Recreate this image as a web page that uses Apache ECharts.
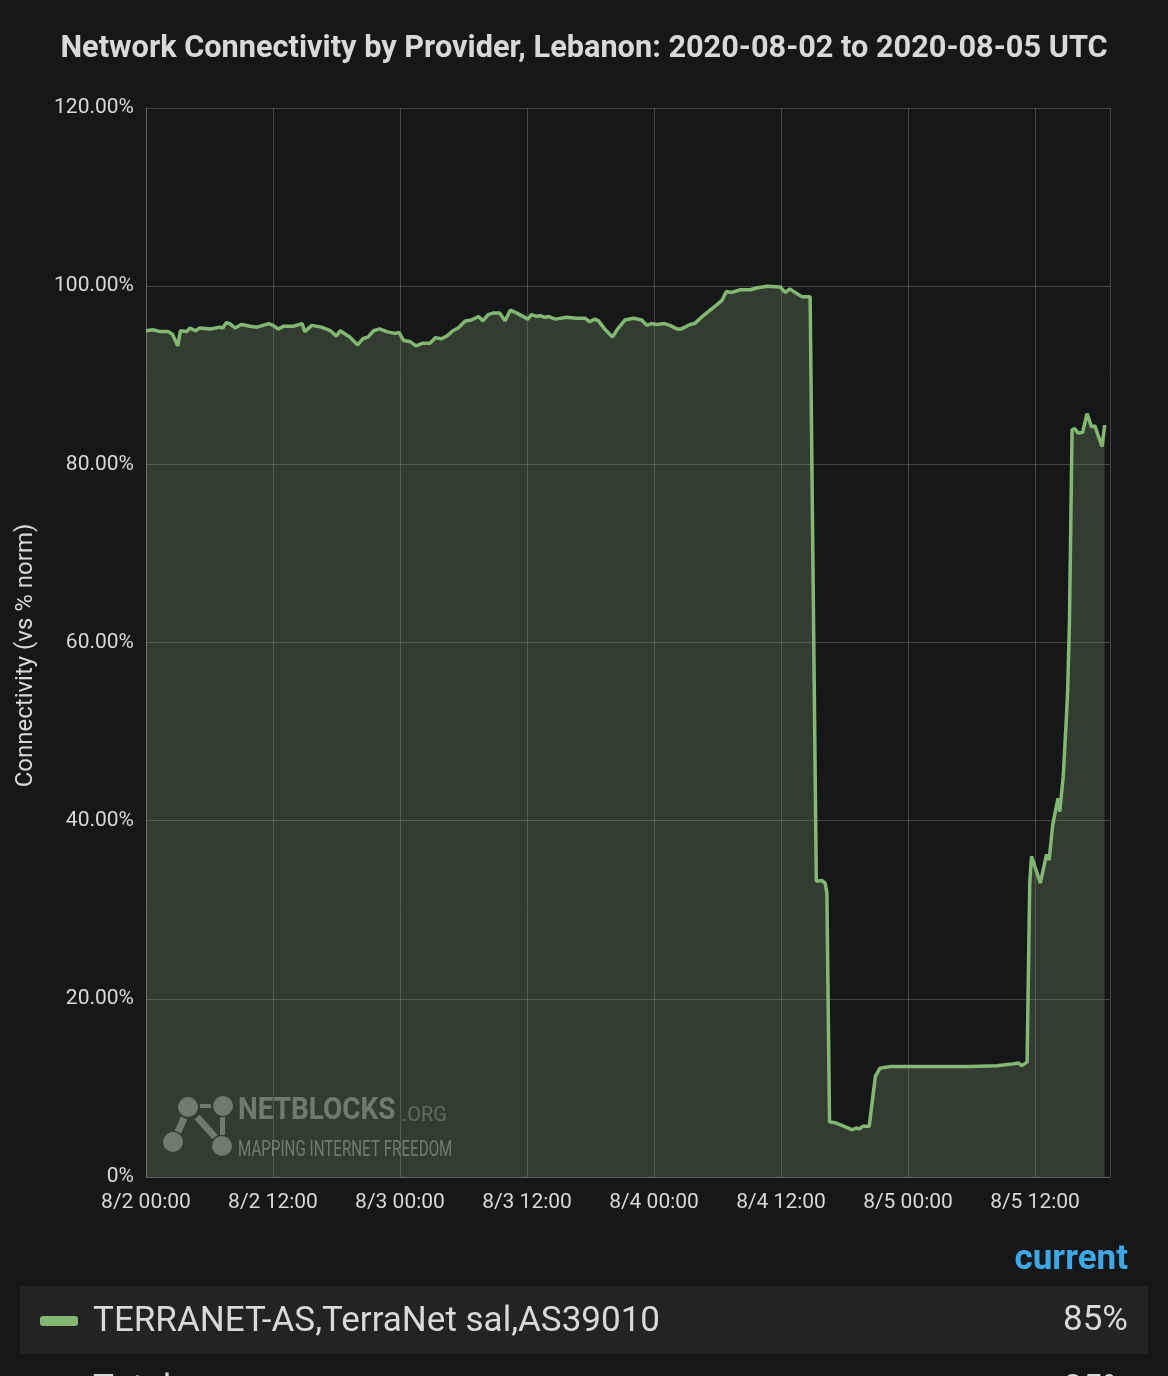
<!DOCTYPE html>
<html>
<head>
<meta charset="utf-8">
<script src="https://cdn.jsdelivr.net/npm/echarts@6/dist/echarts.min.js"></script>
<style>
html,body{margin:0;padding:0;background:#161719;}
#chart{width:1168px;height:1376px;}
</style>
</head>
<body>
<div id="chart"></div>
<script>
// ---- data (UTC) ----
const seriesName = 'TERRANET-AS,TerraNet sal,AS39010';
const times = [
'2020-08-02 00:00','2020-08-02 00:40','2020-08-02 01:20','2020-08-02 02:05','2020-08-02 02:30','2020-08-02 03:00','2020-08-02 03:15','2020-08-02 03:50','2020-08-02 04:10','2020-08-02 04:40',
'2020-08-02 05:05','2020-08-02 06:05','2020-08-02 07:00','2020-08-02 07:15','2020-08-02 07:35','2020-08-02 07:55','2020-08-02 08:25','2020-08-02 09:00','2020-08-02 09:50','2020-08-02 10:30',
'2020-08-02 11:35','2020-08-02 12:00','2020-08-02 12:30','2020-08-02 13:00','2020-08-02 13:55','2020-08-02 14:45','2020-08-02 15:00','2020-08-02 15:40','2020-08-02 16:35','2020-08-02 17:25',
'2020-08-02 18:00','2020-08-02 18:20','2020-08-02 19:15','2020-08-02 20:00','2020-08-02 20:30','2020-08-02 21:00','2020-08-02 21:30','2020-08-02 22:05','2020-08-02 22:45','2020-08-02 23:30',
'2020-08-02 23:55','2020-08-03 00:20','2020-08-03 00:55','2020-08-03 01:30','2020-08-03 02:10','2020-08-03 02:50','2020-08-03 03:20','2020-08-03 03:55','2020-08-03 04:25','2020-08-03 05:00',
'2020-08-03 05:30','2020-08-03 06:10','2020-08-03 06:45','2020-08-03 07:25','2020-08-03 07:50','2020-08-03 08:20','2020-08-03 08:50','2020-08-03 09:25','2020-08-03 09:55','2020-08-03 10:25',
'2020-08-03 11:00','2020-08-03 12:05','2020-08-03 12:25','2020-08-03 12:55','2020-08-03 13:15','2020-08-03 13:40','2020-08-03 14:00','2020-08-03 14:40','2020-08-03 15:45','2020-08-03 16:40',
'2020-08-03 17:30','2020-08-03 17:55','2020-08-03 18:25','2020-08-03 18:45','2020-08-03 19:20','2020-08-03 20:05','2020-08-03 20:30','2020-08-03 21:15','2020-08-03 22:05','2020-08-03 22:50',
'2020-08-03 23:20','2020-08-03 23:45','2020-08-04 00:15','2020-08-04 01:00','2020-08-04 01:30','2020-08-04 02:10','2020-08-04 02:35','2020-08-04 03:25','2020-08-04 03:50','2020-08-04 04:40',
'2020-08-04 05:55','2020-08-04 06:25','2020-08-04 06:50','2020-08-04 07:20','2020-08-04 08:10','2020-08-04 09:05','2020-08-04 09:40','2020-08-04 10:40','2020-08-04 11:55','2020-08-04 12:25',
'2020-08-04 12:50','2020-08-04 13:20','2020-08-04 14:00','2020-08-04 14:45','2020-08-04 14:55','2020-08-04 15:20','2020-08-04 15:50','2020-08-04 16:10','2020-08-04 16:20','2020-08-04 16:35',
'2020-08-04 17:05','2020-08-04 17:55','2020-08-04 18:45','2020-08-04 19:05','2020-08-04 19:25','2020-08-04 19:45','2020-08-04 20:20','2020-08-04 20:55','2020-08-04 21:20','2020-08-04 22:20',
'2020-08-05 02:05','2020-08-05 05:50','2020-08-05 08:25','2020-08-05 09:10','2020-08-05 09:55','2020-08-05 10:25','2020-08-05 10:45','2020-08-05 11:15','2020-08-05 11:30','2020-08-05 11:40',
'2020-08-05 12:30','2020-08-05 13:05','2020-08-05 13:20','2020-08-05 13:40','2020-08-05 14:10','2020-08-05 14:20','2020-08-05 14:40','2020-08-05 15:00','2020-08-05 15:05','2020-08-05 15:15',
'2020-08-05 15:30','2020-08-05 15:45','2020-08-05 16:05','2020-08-05 16:30','2020-08-05 16:55','2020-08-05 17:20','2020-08-05 17:40','2020-08-05 18:00','2020-08-05 18:20','2020-08-05 18:35'
];
const values = [
95.0,95.1,94.9,94.9,94.6,93.3,95.0,94.9,95.3,95.0,
95.3,95.2,95.4,95.3,95.9,95.8,95.3,95.7,95.5,95.4,
95.8,95.6,95.2,95.5,95.5,95.8,94.9,95.6,95.4,95.0,
94.4,95.0,94.3,93.4,94.1,94.3,95.0,95.2,94.9,94.7,
94.8,93.9,93.8,93.3,93.6,93.6,94.2,94.1,94.4,95.0,
95.3,96.1,96.2,96.6,96.1,96.8,97.0,97.0,96.1,97.3,
97.0,96.3,96.8,96.6,96.7,96.5,96.6,96.3,96.5,96.4,
96.4,96.0,96.3,96.1,95.2,94.3,95.1,96.2,96.4,96.2,
95.6,95.8,95.7,95.8,95.6,95.2,95.2,95.7,95.8,96.7,
97.9,98.4,99.4,99.3,99.6,99.6,99.8,100.0,99.9,99.3,
99.7,99.3,98.8,98.8,98.7,33.2,33.3,33.0,31.9,6.2,
6.1,5.7,5.3,5.5,5.4,5.7,5.7,11.3,12.2,12.4,
12.4,12.4,12.5,12.6,12.7,12.8,12.5,12.9,33.0,36.0,
33.0,36.2,35.6,39.5,42.5,41.0,45.0,52.4,54.7,62.2,
83.9,84.0,83.5,83.6,85.7,84.2,84.3,83.1,82.0,84.4
];
const xTickLabels = ['8/2 00:00','8/2 12:00','8/3 00:00','8/3 12:00','8/4 00:00','8/4 12:00','8/5 00:00','8/5 12:00'];
const yTicks = [0,20,40,60,80,100,120];
const rangeStart = '2020-08-02 00:00';
const rangeEnd = '2020-08-05 19:05';
const currentValue = '85%';

function hoursSince(t){
  const m = t.match(/(\d+)-(\d+)-(\d+) (\d+):(\d+)/);
  const s = rangeStart.match(/(\d+)-(\d+)-(\d+) (\d+):(\d+)/);
  const a = Date.UTC(+m[1], +m[2]-1, +m[3], +m[4], +m[5]);
  const b = Date.UTC(+s[1], +s[2]-1, +s[3], +s[4], +s[5]);
  return (a-b)/3600000;
}
const data = times.map((t,i)=>[hoursSince(t), values[i]]);

const txt = '#d8d9da';
const gridCol = 'rgba(150,150,150,0.36)';
const green = '#83b872';
const wm = 'rgba(230,240,225,0.40)';

const chart = echarts.init(document.getElementById('chart'), null, {renderer:'canvas'});
chart.setOption({
  backgroundColor:'#161719',
  animation:false,
  title:{
    text:'Network Connectivity by Provider, Lebanon: 2020-08-02 to 2020-08-05 UTC',
    left:'center', top:29,
    textStyle:{color:txt, fontFamily:'Roboto', fontSize:30.7, fontWeight:'bold'}
  },
  grid:{left:146, right:58, top:108, bottom:199, containLabel:false},
  xAxis:{
    type:'value', min:0, max:hoursSince(rangeEnd), interval:12,
    axisLine:{show:true, lineStyle:{color:gridCol, width:1}},
    axisTick:{show:false},
    splitLine:{show:true, lineStyle:{color:gridCol, width:1}},
    axisLabel:{color:txt, fontFamily:'Roboto', fontSize:21, margin:15, showMaxLabel:false,
      formatter:v=>{const k=Math.round(v/12); return (Math.abs(v-k*12)<1e-6 && xTickLabels[k])?xTickLabels[k]:'';}}
  },
  yAxis:{
    type:'value', min:yTicks[0], max:yTicks[yTicks.length-1], interval:20,
    name:'Connectivity (vs % norm)', nameLocation:'middle', nameGap:108,
    nameTextStyle:{color:txt, fontFamily:'Roboto', fontSize:24, padding:[0,26,0,0]},
    axisLine:{show:true, lineStyle:{color:gridCol, width:1}},
    axisTick:{show:false},
    splitLine:{show:true, lineStyle:{color:gridCol, width:1}},
    axisLabel:{color:txt, fontFamily:'Roboto', fontSize:21, margin:12,
      formatter:v=> v===0 ? '0%' : v.toFixed(2)+'%'}
  },
  series:[{
    name:seriesName, type:'line', data:data, showSymbol:false, smooth:false,
    lineStyle:{color:green, width:3.5},
    itemStyle:{color:green},
    areaStyle:{color:'rgba(130,165,118,0.37)'}
  }],
  graphic:[
    // watermark logo
    {type:'group', z:100, children:[
      {type:'line', shape:{x1:184,y1:1118,x2:178,y2:1132}, style:{stroke:wm, lineWidth:7}},
      {type:'line', shape:{x1:197,y1:1117,x2:215,y2:1137}, style:{stroke:wm, lineWidth:7}},
      {type:'rect', shape:{x:220,y:1117,width:5,height:18}, style:{fill:wm}},
      {type:'rect', shape:{x:200,y:1104,width:11,height:4}, style:{fill:wm}},
      {type:'circle', shape:{cx:188,cy:1107,r:10}, style:{fill:wm}},
      {type:'circle', shape:{cx:223,cy:1106,r:10}, style:{fill:wm}},
      {type:'circle', shape:{cx:173,cy:1142,r:10}, style:{fill:wm}},
      {type:'circle', shape:{cx:222,cy:1146,r:10}, style:{fill:wm}},
      {type:'text', x:238, y:1127, scaleX:0.9, style:{text:'NETBLOCKS', fill:wm, font:'bold 31px "Roboto"', textVerticalAlign:'bottom'}},
      {type:'text', x:402, y:1126, scaleX:0.95, style:{text:'.ORG', fill:'rgba(230,240,225,0.30)', font:'21px "Roboto"', textVerticalAlign:'bottom'}},
      {type:'text', x:238, y:1161, scaleX:0.69, style:{text:'MAPPING INTERNET FREEDOM', fill:wm, font:'22px "Roboto"', textVerticalAlign:'bottom'}}
    ]},
    // legend table
    {type:'text', right:40, top:1243, style:{text:'current', fill:'#3fa7e6', font:'bold 35px "Roboto"'}},
    {type:'rect', shape:{x:20,y:1286,width:1128,height:68}, style:{fill:'#232325'}},
    {type:'rect', shape:{x:40,y:1316,width:38,height:10,r:3}, style:{fill:green}},
    {type:'text', x:93, y:1322, style:{text:seriesName, fill:txt, font:'35px "Roboto"', textVerticalAlign:'middle'}},
    {type:'text', right:40, top:1304, style:{text:currentValue, fill:txt, font:'35px "Roboto"'}},
    {type:'text', x:93, y:1373, style:{text:'Total', fill:txt, font:'35px "Roboto"', textVerticalAlign:'top'}},
    {type:'text', right:40, top:1373, style:{text:currentValue, fill:txt, font:'35px "Roboto"'}}
  ]
});
</script>
</body>
</html>
